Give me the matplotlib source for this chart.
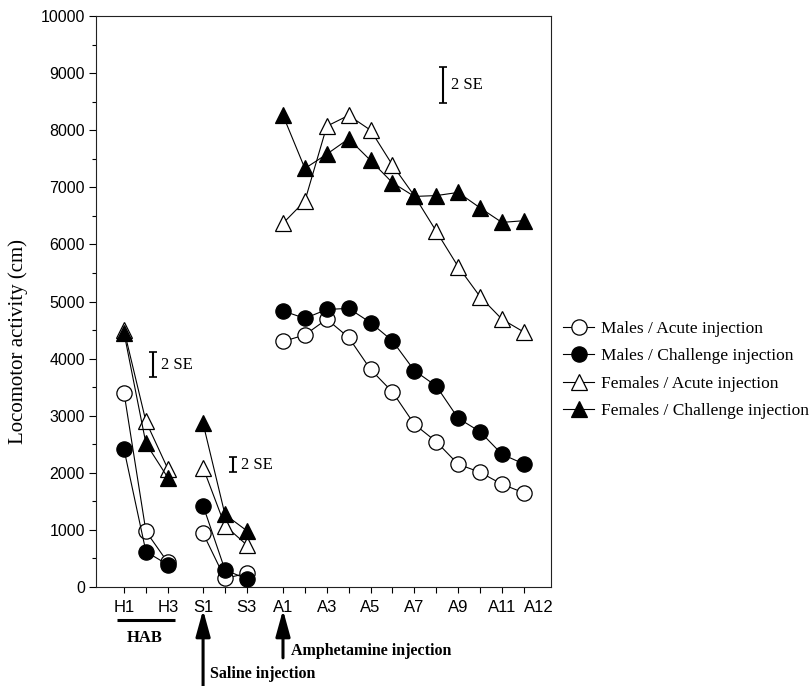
"""Locomotor activity across habituation, saline and amphetamine phases."""

import matplotlib

matplotlib.use("Agg")
import matplotlib.pyplot as plt
import numpy as np

# ---------------------------------------------------------------------------
# data (cm)
#
hab_labels = ["H1", "H2", "H3"]
sal_labels = ["S1", "S2", "S3"]
amph_labels = ["A1", "A2", "A3", "A4", "A5", "A6", "A7", "A8", "A9", "A10", "A11", "A12"]

males_acute_hab = [3400, 975, 430]
males_acute_sal = [940, 150, 240]
males_acute_amph = [4300, 4415, 4690, 4370, 3810, 3415, 2850, 2545, 2150, 2010, 1800, 1650]

males_chal_hab = [2410, 620, 390]
males_chal_sal = [1425, 300, 140]
males_chal_amph = [4835, 4705, 4860, 4880, 4630, 4310, 3790, 3520, 2955, 2720, 2325, 2155]

females_acute_hab = [4500, 2900, 2070]
females_acute_sal = [2090, 1075, 735]
females_acute_amph = [6370, 6760, 8070, 8260, 8000, 7390, 6850, 6230, 5610, 5085, 4690, 4465]

females_chal_hab = [4450, 2515, 1915]
females_chal_sal = [2865, 1270, 985]
females_chal_amph = [8260, 7330, 7580, 7850, 7470, 7080, 6840, 6855, 6910, 6640, 6385, 6415]

# 2 SE bars: (low, high) per phase
se_low = [3670, 2020, 8476]
se_high = [4120, 2270, 9107]

series_names = [
    "Males / Acute injection",
    "Males / Challenge injection",
    "Females / Acute injection",
    "Females / Challenge injection",
]

# ---------------------------------------------------------------------------
# layout
#
x_hab = np.arange(3)
x_sal = np.arange(3) + 3.61
x_amph = np.arange(12) + 7.26
se_x = [1.32, 4.98, 14.56]

SERIF = "Liberation Serif"
SANS = "Liberation Sans"

styles = [
    dict(marker="o", mfc="white"),
    dict(marker="o", mfc="black"),
    dict(marker="^", mfc="white"),
    dict(marker="^", mfc="black"),
]
data = [
    (males_acute_hab, males_acute_sal, males_acute_amph),
    (males_chal_hab, males_chal_sal, males_chal_amph),
    (females_acute_hab, females_acute_sal, females_acute_amph),
    (females_chal_hab, females_chal_sal, females_chal_amph),
]

fig = plt.figure(figsize=(8.12, 6.86), dpi=100)
ax = fig.add_axes([96 / 812, 1 - 587 / 686, (551 - 96) / 812, (587 - 16) / 686])

handles = []
for z, (name, st, phases) in enumerate(zip(series_names, styles, data)):
    for xs, ys in zip((x_hab, x_sal, x_amph), phases):
        (h,) = ax.plot(
            xs, ys, color="black", lw=0.8, mec="black", mew=0.9,
            ms=11, zorder=3 + z, clip_on=False, **st,
        )
    h.set_label(name)
    handles.append(h)

# 2 SE bars
for x, lo, hi in zip(se_x, se_low, se_high):
    ax.errorbar(x, (lo + hi) / 2, yerr=(hi - lo) / 2, fmt="none",
                ecolor="black", elinewidth=1.5, capsize=3, capthick=1.2)
    ax.annotate("2 SE", xy=(x, (lo + hi) / 2), xytext=(6, 0),
                textcoords="offset points", va="center", ha="left",
                family=SERIF, fontsize=12)

ax.set_xlim(-1.28, 19.5)
ax.set_ylim(0, 10000)
ax.set_yticks(np.arange(0, 10001, 1000))
ax.set_yticks(np.arange(500, 10000, 1000), minor=True)

xticks = np.concatenate([x_hab, x_sal, x_amph])
all_labels = hab_labels + sal_labels + amph_labels
shown = {"H1", "H3", "S1", "S3", "A1", "A3", "A5", "A7", "A9", "A11", "A12"}
ax.set_xticks(xticks)
ax.set_xticklabels([l if l in shown else "" for l in all_labels])
ax.get_xticklabels()[-1].set_ha("left")

ax.tick_params(axis="y", which="major", length=5, width=0.8, labelsize=11.5, pad=3)
ax.tick_params(axis="y", which="minor", length=3, width=0.8)
ax.tick_params(axis="x", length=4, width=0.8, labelsize=12, pad=5)
for lbl in ax.get_xticklabels() + ax.get_yticklabels():
    lbl.set_family(SANS)
for sp in ax.spines.values():
    sp.set_linewidth(0.8)
    sp.set_color("#222222")

ax.set_ylabel("Locomotor activity (cm)", family=SERIF, fontsize=15)
ax.yaxis.set_label_coords(-0.15, 0.43)

# annotations under the x axis
trans = ax.get_xaxis_transform()
ax.plot([-0.32, 2.33], [-0.058, -0.058], transform=trans, color="black",
        lw=2.2, clip_on=False, solid_capstyle="butt")
ax.text(0.96, -0.089, "HAB", transform=trans, ha="center", va="center",
        family=SERIF, fontweight="bold", fontsize=12)

arrow = dict(arrowstyle="-|>,head_length=0.8,head_width=0.22", lw=2.2,
             color="black", mutation_scale=20, shrinkA=0, shrinkB=0)
ax.annotate("", xy=(x_sal[0], -0.040), xytext=(x_sal[0], -0.18),
            xycoords=trans, textcoords=trans, arrowprops=arrow)
ax.annotate("Saline injection", xy=(x_sal[0], -0.153), xycoords=trans,
            xytext=(5, 0), textcoords="offset points", ha="left", va="center",
            family=SERIF, fontweight="bold", fontsize=11.5)
ax.annotate("", xy=(x_amph[0], -0.040), xytext=(x_amph[0], -0.124),
            xycoords=trans, textcoords=trans, arrowprops=arrow)
ax.annotate("Amphetamine injection", xy=(x_amph[0], -0.112), xycoords=trans,
            xytext=(6, 0), textcoords="offset points", ha="left", va="center",
            family=SERIF, fontweight="bold", fontsize=11.5)

fig.legend(handles=handles, loc="upper left", bbox_to_anchor=(563 / 812, 1 - 321 / 686),
           frameon=False, prop={"family": SERIF, "size": 12.5}, handlelength=1.8,
           handletextpad=0.4, borderpad=0, borderaxespad=0, labelspacing=0.64)

fig.savefig("out.png", dpi=100)
